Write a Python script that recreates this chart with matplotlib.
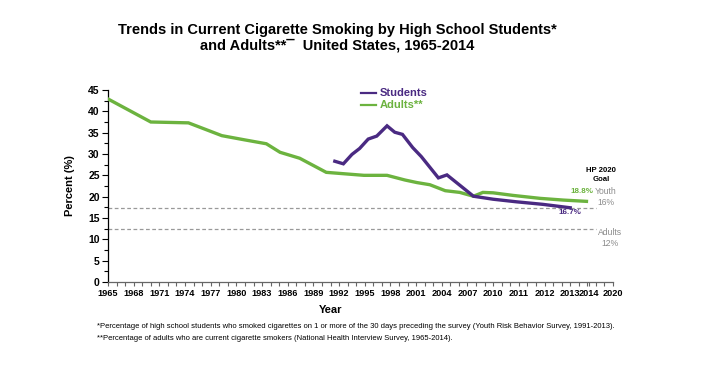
import matplotlib
matplotlib.use('Agg')
import matplotlib.pyplot as plt
import numpy as np
from matplotlib.ticker import MultipleLocator

plt.rcParams['font.family'] = ['Liberation Sans', 'DejaVu Sans']

# x positions are tick steps along the category axis (one tick per step)
tick_pos = [0, 3, 6, 9, 12, 15, 18, 21, 24, 27, 30, 33, 36, 39, 42, 45, 48, 51, 54, 56.2, 59]
tick_labels = ['1965', '1968', '1971', '1974', '1977', '1980', '1983', '1986', '1989', '1992',
               '1995', '1998', '2001', '2004', '2007', '2010', '2011', '2012', '2013', '2014', '2020']

adults_x = [0, 5.0, 9.4, 13.3, 16.0, 18.5, 20.1, 22.4, 25.5, 29.9, 32.6, 34.7, 36.1, 37.6,
            39.4, 41.1, 42.7, 43.8, 45.0, 47.3, 50.5, 53.2, 55.9]
adults_y = [42.9, 37.5, 37.3, 34.3, 33.3, 32.4, 30.4, 29.0, 25.7, 25.0, 25.0, 23.9, 23.3, 22.8,
            21.4, 21.0, 20.1, 21.0, 20.9, 20.3, 19.6, 19.2, 18.9]

students_x = [26.5, 27.5, 28.5, 29.4, 30.4, 31.4, 32.6, 33.5, 34.4, 35.6, 36.6, 38.6, 39.6,
              42.7, 45.0, 47.7, 50.8, 54.0]
students_y = [28.3, 27.7, 29.9, 31.3, 33.5, 34.2, 36.6, 35.1, 34.6, 31.5, 29.4, 24.4, 25.1,
              20.1, 19.4, 18.8, 18.2, 17.4]

goal_youth = 17.4
goal_adults = 12.5

purple = '#4a2a82'
green = '#6cb33f'
gray = '#8c8c8c'

fig = plt.figure(figsize=(7.1, 3.67), dpi=100)
ax = fig.add_axes([108/710, 1 - 282/367, (613 - 108)/710, 192/367])

ax.axhline(goal_youth, color='#999999', lw=0.9, ls=(0, (3, 2)), xmax=57.0/59, zorder=1)
ax.axhline(goal_adults, color='#999999', lw=0.9, ls=(0, (3, 2)), xmax=57.0/59, zorder=1)

ax.plot(adults_x, adults_y, color=green, lw=2.4, solid_joinstyle='miter', zorder=3)
ax.plot(students_x, students_y, color=purple, lw=2.4, solid_joinstyle='miter', zorder=4)

ax.set_xlim(0, 59)
ax.set_ylim(0, 45)
ax.set_xticks(tick_pos)
ax.set_xticklabels(tick_labels, fontsize=6.6, fontweight='bold')
ax.xaxis.set_minor_locator(MultipleLocator(1))
ax.yaxis.set_major_locator(MultipleLocator(5))
ax.yaxis.set_minor_locator(MultipleLocator(2.5))
ax.tick_params(axis='y', labelsize=7.5, width=0.8, length=4, pad=2)
ax.tick_params(axis='y', which='minor', length=3, width=0.8)
ax.tick_params(axis='x', which='both', length=3, width=0.8, pad=2, color='#666666')
for lab in ax.get_yticklabels():
    lab.set_fontweight('bold')
for s in ['top', 'right']:
    ax.spines[s].set_visible(False)
ax.spines['left'].set_linewidth(0.9)
ax.spines['bottom'].set_linewidth(0.9)
ax.spines['bottom'].set_color('#666666')

ax.set_ylabel('Percent (%)', fontsize=8, fontweight='bold')
ax.yaxis.set_label_coords(-0.066, 0.5)
ax.set_xlabel('Year', fontsize=8, fontweight='bold')
ax.xaxis.set_label_coords(0.44, -0.12)

# legend
ax.plot([29.6, 31.3], [44.3, 44.3], color=purple, lw=1.6, clip_on=False)
ax.plot([29.6, 31.3], [41.5, 41.5], color=green, lw=1.6, clip_on=False)
ax.text(31.8, 44.3, 'Students', color=purple, fontsize=8, fontweight='bold', va='center')
ax.text(31.8, 41.5, 'Adults**', color=green, fontsize=8, fontweight='bold', va='center')

# annotations
ax.text(57.6, 25.1, 'HP 2020\nGoal', fontsize=5.6, fontweight='bold', ha='center', va='center',
        linespacing=1.5)
ax.text(55.4, 21.3, '18.8%', color=green, fontsize=5.8, fontweight='bold', ha='center', va='center')
ax.text(58.2, 19.9, 'Youth\n16%', color=gray, fontsize=6.2, ha='center', va='center', linespacing=1.4)
ax.text(54.0, 16.2, '16.7%', color=purple, fontsize=5.8, fontweight='bold', ha='center', va='center')
ax.text(58.7, 10.3, 'Adults\n12%', color=gray, fontsize=6.2, ha='center', va='center', linespacing=1.4)

fig.text(0.475, 1 - 30/367, 'Trends in Current Cigarette Smoking by High School Students*',
         fontsize=10.5, fontweight='bold', ha='center', va='center')
fig.text(0.475, 1 - 46/367, 'and Adults**\u00af  United States, 1965-2014',
         fontsize=10.5, fontweight='bold', ha='center', va='center')

fn = ['Liberation Sans Narrow', 'Liberation Sans', 'DejaVu Sans']
fig.text(97/710, 1 - 327/367,
         '*Percentage of high school students who smoked cigarettes on 1 or more of the 30 days preceding '
         'the survey (Youth Risk Behavior Survey, 1991-2013).',
         fontsize=5.5, family=fn, va='center')
fig.text(97/710, 1 - 339/367,
         '**Percentage of adults who are current cigarette smokers (National Health Interview Survey, 1965-2014).',
         fontsize=5.5, family=fn, va='center')

fig.savefig('out.png', dpi=100)
